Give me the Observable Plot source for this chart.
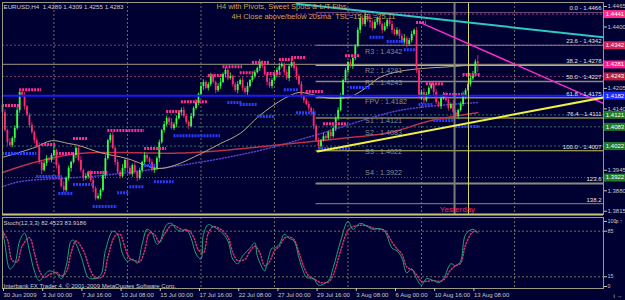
<!DOCTYPE html>
<html><head><meta charset="utf-8">
<script src="https://cdn.jsdelivr.net/npm/d3@7"></script>
<script src="https://cdn.jsdelivr.net/npm/@observablehq/plot@0.6"></script>
<style>
html,body{margin:0;padding:0;background:#000033;}
#wrap{width:625px;height:300px;overflow:hidden;background:#000033;}
#wrap svg{display:block;}
</style></head><body><div id="wrap"></div>
<script>
// ---------- data ----------
const header = "EURUSD,H4  1.4289 1.4309 1.4255 1.4283";
const titleLine1 = "H4 with Pivots, Sweet Spots & L/T Fibs";
const titleLine2 = "4H Close above/below 20sma  TSL=15,SL=25.11";
const firstOpen = 1.4152;
const closes = [
1.4128,1.4071,1.4033,1.4024,1.4046,1.4078,1.4135,1.4192,1.4182,1.4147,
1.4119,1.4087,1.4065,1.4039,1.4020,1.3970,1.3944,1.3966,1.3982,1.3976,
1.3992,1.4008,1.3960,1.3919,1.3893,1.3881,1.3919,1.3951,1.3970,1.3992,
1.4014,1.3976,1.3944,1.3919,1.3925,1.3938,1.3912,1.3887,1.3855,1.3862,
1.3881,1.3928,1.3982,1.4039,1.4055,1.4014,1.3970,1.3938,1.3925,1.3951,
1.3976,1.3951,1.3932,1.3960,1.3938,1.3919,1.3944,1.3970,1.3992,1.3982,
1.3970,1.3944,1.3951,1.3982,1.4033,1.4071,1.4090,1.4109,1.4097,1.4078,
1.4090,1.4109,1.4128,1.4135,1.4116,1.4097,1.4084,1.4116,1.4141,1.4160,
1.4186,1.4211,1.4224,1.4205,1.4217,1.4243,1.4224,1.4198,1.4211,1.4224,
1.4249,1.4262,1.4236,1.4243,1.4217,1.4198,1.4217,1.4230,1.4205,1.4192,
1.4211,1.4230,1.4243,1.4255,1.4268,1.4287,1.4274,1.4249,1.4224,1.4211,
1.4230,1.4249,1.4262,1.4274,1.4281,1.4255,1.4236,1.4274,1.4287,1.4268,
1.4243,1.4217,1.4179,1.4166,1.4154,1.4141,1.4128,1.4084,1.4039,1.4020,
1.4039,1.4052,1.4046,1.4065,1.4052,1.4078,1.4109,1.4135,1.4179,1.4230,
1.4262,1.4287,1.4274,1.4300,1.4338,1.4389,1.4427,1.4408,1.4433,1.4420,
1.4414,1.4395,1.4414,1.4427,1.4408,1.4389,1.4401,1.4420,1.4408,1.4389,
1.4376,1.4389,1.4370,1.4351,1.4363,1.4344,1.4357,1.4376,1.4389,1.4262,
1.4173,1.4192,1.4166,1.4186,1.4205,1.4217,1.4192,1.4160,1.4147,1.4173,
1.4186,1.4166,1.4141,1.4154,1.4128,1.4116,1.4135,1.4154,1.4179,1.4198,
1.4217,1.4236,1.4249,1.4289,1.4283];
// upper / lower wick lengths in pips
const upWick = [
6,9,4,12,5,8,10,3,7,11,4,6,9,5,8,
12,4,7,10,5,6,13,4,8,9,15,5,7,4,10,
6,8,12,5,9,4,7,11,6,8,5,14,9,4,7,
10,5,8,6,12,4,9,7,5,11,6,8,4,10,7,
5,9,13,6,8,4,10,7,5,12,6,9,4,8,11,
7,5,10,6,9,4,12,8,5,7,10,6,4,9,13,
5,8,6,11,4,7,10,5,9,6,12,4,8,7,5,
10,6,9,4,13,7,5,8,11,6,4,9,7,12,5,
8,6,10,4,7,9,5,12,6,8,4,11,7,5,9,
14,6,8,10,5,7,4,9,12,6,8,5,10,13,7,
11,6,9,5,8,4,12,7,6,10,5,9,4,8,13,
6,7,10,5,9,4,8,12,6,7,5,11,9,4,10,
6,8,9,5,12,7,4,8,14,6,5,9,10,7,20];
const downWick = [
8,5,10,4,7,12,6,9,5,11,4,8,6,10,5,
7,13,4,9,6,8,5,11,7,4,10,6,8,12,5,
9,4,7,10,6,8,5,13,7,4,9,6,11,5,8,
4,10,6,8,5,12,7,4,9,6,10,5,8,7,11,
6,4,9,7,12,5,8,6,10,4,7,9,5,11,6,
8,10,4,7,5,9,6,12,4,8,7,5,10,6,9,
4,11,7,5,8,6,10,4,9,7,12,5,6,8,4,
9,7,5,10,6,8,4,11,7,5,9,6,10,4,8,
12,5,7,9,4,8,6,10,5,13,11,4,8,6,9,
5,10,7,4,8,6,12,5,9,7,4,10,6,8,5,
18,7,4,9,6,10,5,8,7,11,4,6,9,5,8,
10,6,8,5,9,4,7,11,6,8,5,10,7,4,9,
6,5,8,4,12,6,9,5,7,10,4,8,6,5,28];

// sweet spots (bar from, bar to, price)
const pinkFrom  = [0,7,16,22,29,35,43,58,67,73,84,90,97,102,108,113,118,124,131,140,169,173,180,188];
const pinkTo    = [7,16,22,29,35,43,58,67,73,84,90,98,103,109,114,119,124,131,141,146,173,180,188,195];
const pinkPrice = [1.4151,1.4201,1.4027,1.3998,1.4046,1.3938,1.4071,1.4014,1.4132,1.4163,1.4246,1.4274,1.4255,1.4287,1.4252,1.4297,1.4303,1.4195,1.4093,1.4309,1.4414,1.4220,1.4186,1.4249];
const blueFrom  = [0,14,23,29,37,47,52,58,62,70,92,97,104,115,120,129,142,150,157,164,170,176,185];
const blueTo    = [14,24,29,37,47,52,58,63,70,89,98,104,111,121,128,142,150,156,164,169,176,184,195];
const bluePrice = [1.3998,1.3925,1.3871,1.3900,1.3830,1.3874,1.3893,1.3960,1.3909,1.4055,1.4160,1.4154,1.4116,1.4201,1.4128,1.4014,1.4208,1.4367,1.4354,1.4328,1.4154,1.4103,1.4084];

// moving averages (bar, price)
const tanBars = [0,13,20,27,31,40,51,63,70,81,89,97,105,115,121,126,134,142,148,154,162,171,183,194];
const tanVals = [1.3986,1.4017,1.4039,1.4030,1.4024,1.4001,1.3982,1.3951,1.3960,1.3998,1.4030,1.4062,1.4119,1.4173,1.4192,1.4186,1.4173,1.4179,1.4205,1.4240,1.4259,1.4268,1.4274,1.4281];
const redBars = [0,13,31,77,118,138,158,175,194];
const redVals = [1.3938,1.3970,1.3998,1.4001,1.4030,1.4046,1.4065,1.4103,1.4128];
const purpleBars = [0,7,40,77,105,130,162,194];
const purpleVals = [1.3893,1.3909,1.3928,1.3966,1.4008,1.4062,1.4135,1.4160];

// pivots
const pivotNames  = ["R3","R2","R1","FPV","S1","S2","S3","S4"];
const pivotPrices = [1.4342,1.4281,1.4243,1.4182,1.4121,1.4083,1.4022,1.3922];
const pivotStyles = ["dash","gray","dash","blue","teal","teal","teal","dot"];
const weeklyLevel = 1.4441, weeklyFrom = 120;
const pivotLabelBar = 148;

// fibonacci
const fibStartBar = 128;
const fibPct    = [0,23.6,38.2,50.0,61.8,76.4,100.0,123.6,138.2];
const fibPrices = [1.4446,1.4342,1.4278,1.4227,1.4175,1.4111,1.4007,1.3903,1.3839];
const fibLabels = ["0.0 - 1.4466","23.6 - 1.4342","38.2 - 1.4278","50.0 - 1.4227","61.8 - 1.4175","76.4 - 1.4111","100.0 - 1.4007","123.6","138.2"];
const fibColors = ["#6a4a78","#8a8a80","#c8c860","#8a8a80","#c8c860","#c8c860","#c8c860","#8a8a80","#8a8a80"];
const fibWidths = [1,1,1,1.5,1,1,1,2,1];

// trend lines (bar, price)
const cyanLine    = [[120,1.4474],[245.3,1.4367]];
const magentaLine = [[170.6,1.4414],[245.3,1.4157]];
const yellowLine  = [[128.6,1.4005],[245.3,1.4176]];
const markerBars = [184.5, 190.2];
const yesterdayBar = 185.7;

// price axis boxes
const boxPrices = [1.4441,1.4342,1.4281,1.4243,1.4182,1.4121,1.4083,1.4022,1.3922];
const boxColors = ["#ff2a8a","#d0245a","#ff1a8c","#b8203c","#1a2cff","#1f7a2a","#1f7a2a","#1f7a2a","#1f7a2a"];
// visible price ticks (the others sit under the coloured boxes)
const priceTicks = [1.4465,1.4400,1.4205,1.4140,1.3945,1.3880,1.3815];

// time axis
const gridBars = [21,51,81,111,141,171,209];
const xTickBars = [0,16,32,48,64,80,96,112,128,144,160,176,192];
const xTickLabels = ["30 Jun 2009","3 Jul 00:00","7 Jul 16:00","10 Jul 08:00","15 Jul 00:00","17 Jul 16:00","22 Jul 08:00","27 Jul 00:00","29 Jul 16:00","3 Aug 08:00","6 Aug 00:00","10 Aug 16:00","13 Aug 08:00"];

// stochastic
const stochLabel = "Stoch(12,3,3) 82.4523 83.9186";
const copyright = "Interbank FX Trader 4, \u00a9 2001-2009 MetaQuotes Software Corp.";
const stochBars = [0,1,3,5,7,9,11,13,15,17,19,22,24,26,28,29,32,35,37,40,42,45,47,49,51,53,55,57,59,61,63,64,67,69,71,73,75,77,79,81,82,84,86,89,92,94,96,98,101,103,104,107,108,110,111,113,115,117,119,121,123,124,127,129,133,135,138,141,143,146,149,151,154,156,159,161,163,165,167,169,171,173,176,178,180,183,185,187,189,192,194];
const stochMain = [88,65,27,35,70,82,55,24,9,17,24,20,12,32,70,71,47,14,12,17,55,85,80,50,39,42,36,65,88,82,65,67,95,97,88,85,88,74,50,42,80,95,92,85,70,42,35,47,59,67,47,24,36,59,59,65,80,74,70,44,21,14,12,2,9,29,70,100,88,97,92,88,89,85,59,55,44,21,27,12,2,12,9,6,12,35,32,39,80,88,82];
const sigBars = [0,2,4,6,8,11,13,15,17,19,22,24,26,28,30,33,36,38,41,43,46,48,50,52,54,56,58,60,62,64,66,69,71,74,76,78,80,82,84,86,89,92,94,96,99,101,103,105,107,109,111,113,115,117,119,121,123,125,127,130,133,135,138,141,143,146,149,151,154,156,159,161,163,165,167,169,171,173,176,178,180,183,185,187,189,192,194];
const stochSig = [85,72,40,38,62,75,52,25,14,18,22,16,22,52,70,55,24,13,16,45,78,80,60,43,40,38,55,82,80,68,80,94,92,86,86,76,56,52,82,92,88,76,52,40,42,54,62,52,32,38,55,62,74,76,72,52,30,16,12,6,7,18,55,86,92,94,93,90,88,86,68,58,50,30,26,18,8,8,9,8,10,26,32,36,64,84,84];
const stochTicks = [0,15,85,100];
const stochLevels = [15,85];

// ---------- build ----------
const XMAX = 245.3, YMIN = 1.38047, YMAX = 1.44777;
const UP = "#3cff3c", DOWN = "#ff2a6e";
const FONT = "'Liberation Sans', Arial, sans-serif";

const bars = closes.map((c, i) => {
  const o = i === 0 ? firstOpen : closes[i - 1];
  return {i, o, c, h: Math.max(o, c) + upWick[i] / 1e4, l: Math.min(o, c) - downWick[i] / 1e4};
});
const pinkSpots = pinkFrom.map((a, k) => ({a, b: pinkTo[k], p: pinkPrice[k]}));
const blueSpots = blueFrom.map((a, k) => ({a, b: blueTo[k], p: bluePrice[k]}));
const zipLine = (bs, vs) => bs.map((i, k) => ({i, p: vs[k]}));
const pivots = pivotNames.map((n, k) => ({n, p: pivotPrices[k], s: pivotStyles[k], t: `${n} : ${pivotPrices[k].toFixed(4)}`}));
const fibs = fibPct.map((f, k) => ({f, p: fibPrices[k], t: fibLabels[k], c: fibColors[k], w: fibWidths[k]}));
const boxes = boxPrices.map((p, k) => ({p, c: boxColors[k]}));
const tl = arr => arr.map(([i, p]) => ({i, p}));
const pv = s => pivots.filter(d => d.s === s);

const main = Plot.plot({
  width: 625, height: 216,
  marginLeft: 2, marginRight: 22, marginTop: 2, marginBottom: 2,
  style: {background: "transparent", overflow: "visible", fontFamily: FONT, color: "#c8c8c8"},
  x: {domain: [0, XMAX], axis: null},
  y: {domain: [YMIN, YMAX], axis: null},
  marks: [
    Plot.ruleX(gridBars, {stroke: "#8c8c68", strokeDasharray: "2,2", strokeWidth: 0.8}),
    // pivots (full width)
    Plot.ruleY(pv("dash"), {y: "p", stroke: "#8a3a6a", strokeDasharray: "2,2"}),
    Plot.ruleY(pv("gray"), {y: "p", stroke: "#7a7a70", strokeWidth: 1.2}),
    Plot.ruleY(pv("teal"), {y: "p", stroke: "#2e6e6a", strokeDasharray: "2,2"}),
    Plot.ruleY(pv("dot"), {y: "p", stroke: "#2e6e6a", strokeDasharray: "1,2"}),
    Plot.ruleY([weeklyLevel], {x1: weeklyFrom, x2: XMAX, stroke: "#9a3a8a", strokeDasharray: "2,2"}),
    // fibs
    Plot.ruleY(fibs, {y: "p", x1: fibStartBar, x2: XMAX, stroke: "c", strokeWidth: "w"}),
    // moving averages
    Plot.line(zipLine(purpleBars, purpleVals), {x: "i", y: "p", stroke: "#5a3ccc", strokeDasharray: "1,2", curve: "catmull-rom"}),
    Plot.line(zipLine(redBars, redVals), {x: "i", y: "p", stroke: "#c03048", strokeDasharray: "1.5,1", curve: "catmull-rom"}),
    Plot.line(zipLine(tanBars, tanVals), {x: "i", y: "p", stroke: "#b8ac7c", strokeWidth: 1, curve: "catmull-rom"}),
    // candles
    Plot.ruleX(bars, {x: "i", y1: "l", y2: "h", stroke: d => d.c >= d.o ? UP : DOWN, strokeWidth: 0.8}),
    Plot.ruleX(bars, {x: "i", y1: "o", y2: "c", stroke: d => d.c >= d.o ? UP : DOWN, strokeWidth: 1.8}),
    // sweet spots
    Plot.ruleY(pinkSpots, {x1: "a", x2: "b", y: "p", stroke: "#ff2f8f", strokeWidth: 3, strokeDasharray: "2,1"}),
    Plot.ruleY(blueSpots, {x1: "a", x2: "b", y: "p", stroke: "#2a3cff", strokeWidth: 3, strokeDasharray: "2,1"}),
    // FPV blue full width
    Plot.ruleY(pv("blue"), {y: "p", stroke: "#1a1aff", strokeWidth: 2}),
    // vertical markers
    Plot.ruleX([markerBars[0]], {stroke: "#7a7a7a", strokeWidth: 2}),
    Plot.ruleX([markerBars[1]], {stroke: "#d8d860", strokeWidth: 1}),
    // trend lines
    Plot.line(tl(cyanLine), {x: "i", y: "p", stroke: "#2ec8c0", strokeWidth: 2, clip: "frame"}),
    Plot.line(tl(magentaLine), {x: "i", y: "p", stroke: "#ff2ad0", strokeWidth: 1.5, clip: "frame"}),
    Plot.line(tl(yellowLine), {x: "i", y: "p", stroke: "#f0f040", strokeWidth: 2, clip: "frame"}),
    // labels
    Plot.text(pivots.filter(d => d.n !== "S4"), {x: pivotLabelBar, y: "p", text: "t", dy: 6, textAnchor: "start", fontSize: 7.2, fill: "#8c8c8c"}),
    Plot.text(pivots.filter(d => d.n === "S4"), {x: pivotLabelBar, y: "p", text: "t", dy: -5, textAnchor: "start", fontSize: 7.2, fill: "#8c8c8c"}),
    Plot.text(fibs, {x: XMAX, y: "p", text: "t", dx: -2, dy: -4, textAnchor: "end", fontSize: 6, fill: "#e0e0e0"}),
    Plot.text([header], {text: d => d, frameAnchor: "top-left", dx: 1, dy: 2, lineAnchor: "top", textAnchor: "start", fontSize: 6.2, fill: "#d0d0d0"}),
    Plot.text([titleLine1], {text: d => d, frameAnchor: "top-left", dx: 214, dy: 1, lineAnchor: "top", textAnchor: "start", fontSize: 7.5, fill: "#d2a04a"}),
    Plot.text([titleLine2], {text: d => d, frameAnchor: "top-left", dx: 229, dy: 11.5, lineAnchor: "top", textAnchor: "start", fontSize: 7.5, fill: "#d2a04a"}),
    Plot.text([{i: yesterdayBar, t: "Yesterday"}], {x: "i", text: "t", frameAnchor: "bottom", dy: -3, fontSize: 8, fill: "#ff2a60"}),
    // frame & price axis
    Plot.frame({stroke: "#9a9a82"}),
    Plot.ruleY([YMIN], {stroke: "#c8c878", strokeWidth: 2}),
    Plot.axisY({ticks: priceTicks, anchor: "right", tickFormat: d => d.toFixed(4), tickSize: 3, tickPadding: 1, fontSize: 6, textAnchor: "start"}),
    Plot.tickY(boxes, {y: "p", stroke: "c", strokeWidth: 8, insetLeft: 602, insetRight: -22}),
    Plot.text(boxes, {y: "p", text: d => d.p.toFixed(4), frameAnchor: "right", dx: 11.5, textAnchor: "middle", fontSize: 6, fill: "#ffffff"})
  ]
});

const stoch = Plot.plot({
  width: 625, height: 84,
  marginLeft: 2, marginRight: 22, marginTop: 1, marginBottom: 12,
  style: {background: "transparent", overflow: "visible", fontFamily: FONT, color: "#c8c8c8"},
  x: {domain: [0, XMAX], axis: null},
  y: {domain: [-3, 106], axis: null},
  marks: [
    Plot.ruleX(gridBars, {stroke: "#8c8c68", strokeDasharray: "2,2", strokeWidth: 0.8}),
    Plot.ruleY(stochLevels, {stroke: "#8c8c68", strokeDasharray: "2,2", strokeWidth: 0.8}),
    Plot.line(zipLine(sigBars, stochSig), {x: "i", y: "p", stroke: "#d0306a", strokeDasharray: "1.2,2", curve: "catmull-rom"}),
    Plot.line(zipLine(stochBars, stochMain), {x: "i", y: "p", stroke: "#1fa37a", strokeWidth: 1, curve: "catmull-rom"}),
    Plot.text([stochLabel], {text: d => d, frameAnchor: "top-left", dx: 1, dy: 3, lineAnchor: "top", textAnchor: "start", fontSize: 6, fill: "#d0d0d0"}),
    Plot.text([copyright], {text: d => d, frameAnchor: "bottom-left", dx: 1, dy: -1, lineAnchor: "bottom", textAnchor: "start", fontSize: 6, fill: "#d0d0d0"}),
    Plot.frame({stroke: "#9a9a82"}),
    Plot.axisY({ticks: stochTicks, anchor: "right", tickSize: 3, tickPadding: 1, fontSize: 5.3, textAnchor: "start"}),
    Plot.axisX({ticks: xTickBars, anchor: "bottom", tickFormat: d => xTickLabels[xTickBars.indexOf(d)], tickSize: 3, tickPadding: 1, fontSize: 6, textAnchor: "start", dx: 1})
  ]
});

const wrap = document.getElementById("wrap");
wrap.append(main, stoch);
</script></body></html>
